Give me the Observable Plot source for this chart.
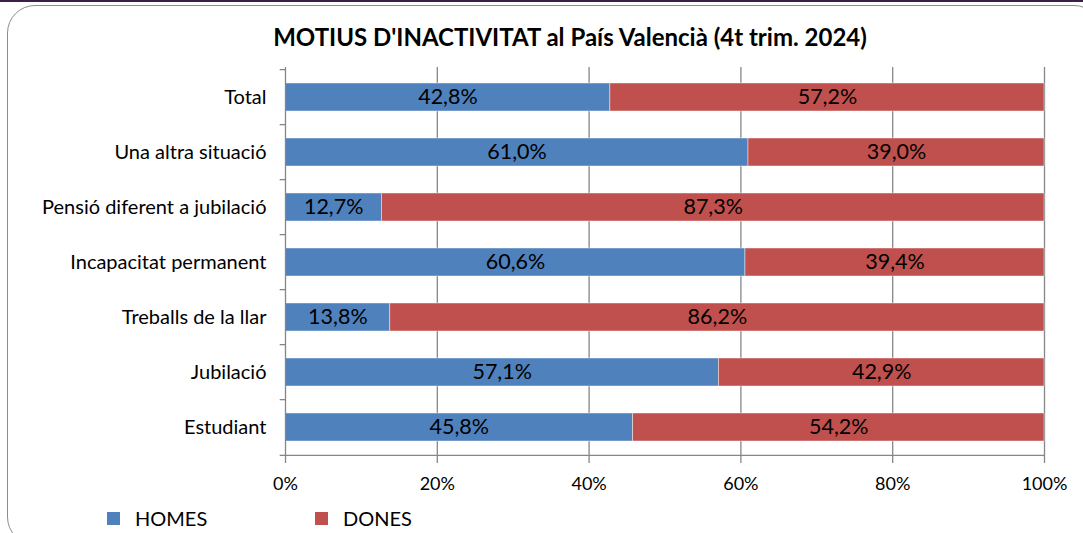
<!DOCTYPE html>
<html>
<head>
<meta charset="utf-8">
<script src="https://cdn.jsdelivr.net/npm/d3@7"></script>
<script src="https://cdn.jsdelivr.net/npm/@observablehq/plot@0.6"></script>
<style>
  html, body { margin: 0; padding: 0; background: #fff; }
  #wrap { position: relative; width: 1083px; height: 533px; overflow: hidden; font-family: Lato, sans-serif; }
  #topline { position: absolute; left: 0; top: 0; width: 1083px; height: 2px; background: #3a1f4a; }
  #frame { position: absolute; left: 7px; top: 5px; width: 1095px; height: 540px; border: 1.5px solid #8c8c8c; border-radius: 28px; box-sizing: border-box; }
  #title { position: absolute; left: 0; width: 1140px; top: 22px; text-align: center; font-weight: bold; font-size: 24px; color: #000; }
  #chart { position: absolute; left: 0; top: 0; }
  .leg { position: absolute; top: 506px; font-size: 20px; color: #000; display: flex; align-items: center; }
  .sw { width: 13px; height: 13px; margin-right: 15px; }
</style>
</head>
<body>
<div id="wrap">
  <div id="topline"></div>
  <div id="frame"></div>
  <div id="title">MOTIUS D'INACTIVITAT al País Valencià (4t trim. 2024)</div>
  <div id="chart"></div>
  <div class="leg" style="left:107px"><div class="sw" style="background:#4F81BD"></div>HOMES</div>
  <div class="leg" style="left:315px"><div class="sw" style="background:#C0504D"></div>DONES</div>
</div>
<script>
const categories = ["Total", "Una altra situació", "Pensió diferent a jubilació", "Incapacitat permanent", "Treballs de la llar", "Jubilació", "Estudiant"];
const homes = [42.8, 61.0, 12.7, 60.6, 13.8, 57.1, 45.8];
const dones = [57.2, 39.0, 87.3, 39.4, 86.2, 42.9, 54.2];
const series = ["HOMES", "DONES"];
const colors = ["#4F81BD", "#C0504D"];
const xTicks = [0, 20, 40, 60, 80, 100];

const data = categories.flatMap((c, i) => [
  {cat: c, sex: series[0], v: homes[i]},
  {cat: c, sex: series[1], v: dones[i]}
]);

const marginTop = 67, marginBottom = 43, height = 500;
const step = (height - marginTop - marginBottom) / categories.length;
const fmt = v => v.toFixed(1).replace(".", ",") + "%";
const grid = "#868686";

const chart = Plot.plot({
  width: 1083,
  height,
  marginLeft: 285,
  marginRight: 39,
  marginTop,
  marginBottom,
  style: {fontFamily: "Lato, sans-serif", color: "#000", background: "transparent"},
  x: {domain: [0, 100]},
  y: {domain: categories, paddingInner: 0.5, paddingOuter: 0.25, align: 0.5},
  color: {domain: series, range: colors},
  marks: [
    Plot.gridX(xTicks.slice(1), {stroke: grid, strokeOpacity: 1, strokeWidth: 1.3}),
    Plot.barX(data, Plot.stackX({x: "v", y: "cat", fill: "sex", stroke: "#ffffff", strokeOpacity: 0.55, strokeWidth: 0.8})),
    Plot.text(data, Plot.stackX({x: "v", y: "cat", z: "sex", text: d => fmt(d.v), fontSize: 21.5, fill: "#000"})),
    // left axis line
    Plot.ruleX([0], {stroke: grid, strokeWidth: 1.3}),
    // bottom axis line
    Plot.ruleY([categories[categories.length - 1]], {x1: 0, x2: 100, dy: step / 2, stroke: grid, strokeWidth: 1.3}),
    // category boundary ticks
    Plot.ruleY(categories, {x1: -0.7, x2: 0, dy: -step / 2, stroke: grid, strokeWidth: 1.3}),
    Plot.ruleY([categories[categories.length - 1]], {x1: -0.7, x2: 0, dy: step / 2, stroke: grid, strokeWidth: 1.3}),
    Plot.axisY({tickSize: 0, tickPadding: 19, fontSize: 20, label: null}),
    Plot.axisX({ticks: xTicks, tickFormat: d => d + "%", tickSize: 6, tickPadding: 14, fontSize: 18, stroke: grid, strokeWidth: 1.3, label: null})
  ]
});
document.getElementById("chart").appendChild(chart);
</script>
</body>
</html>
